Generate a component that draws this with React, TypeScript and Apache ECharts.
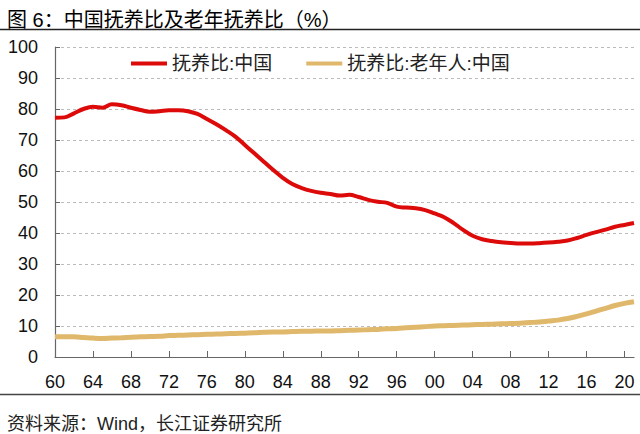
import { useEffect, useRef } from 'react'
import * as echarts from 'echarts'

// 年份 1960-2021
const years: string[] = []
for (let y = 1960; y <= 2021; y++) years.push(String(y))

// 抚养比:中国（%）
const totalRatio = [
  77.2, 77.3, 78.6, 80.0, 80.7, 80.4, 81.5, 81.2, 80.4, 79.7,
  79.1, 79.3, 79.6, 79.6, 79.3, 78.4, 76.8, 75.1, 73.2, 71.1,
  68.4, 65.7, 63.0, 60.3, 57.8, 55.8, 54.5, 53.6, 53.0, 52.6,
  52.1, 52.3, 51.6, 50.7, 50.1, 49.7, 48.5, 48.2, 48.0, 47.4,
  46.3, 45.1, 43.2, 41.0, 39.1, 38.0, 37.4, 37.0, 36.8, 36.6,
  36.6, 36.7, 36.9, 37.2, 37.6, 38.4, 39.4, 40.3, 41.1, 42.0,
  42.6, 43.2,
]

// 抚养比:老年人:中国（%）
const elderRatio = [
  6.5, 6.5, 6.5, 6.3, 6.1, 6.0, 6.1, 6.2, 6.4, 6.5,
  6.6, 6.7, 6.9, 7.0, 7.1, 7.2, 7.3, 7.4, 7.5, 7.6,
  7.7, 7.8, 8.0, 8.1, 8.1, 8.2, 8.3, 8.3, 8.4, 8.4,
  8.5, 8.6, 8.7, 8.8, 8.9, 9.1, 9.2, 9.4, 9.6, 9.8,
  10.0, 10.1, 10.2, 10.3, 10.4, 10.5, 10.6, 10.7, 10.8, 10.9,
  11.1, 11.3, 11.6, 11.9, 12.4, 13.1, 13.9, 14.8, 15.7, 16.6,
  17.3, 17.8,
]

const FONT = '"Liberation Sans", Arial, "Noto Sans CJK SC", sans-serif'

const App = () => {
  const chartRef = useRef<HTMLDivElement>(null)

  useEffect(() => {
    if (!chartRef.current) return
    const chart = echarts.init(chartRef.current, undefined, { renderer: 'svg' })

    chart.setOption({
      animation: false,
      textStyle: { fontFamily: FONT },
      title: [
        {
          text: '图 6：中国抚养比及老年抚养比（%）',
          left: 2,
          top: 5,
          textStyle: { fontSize: 20, fontWeight: 'normal', color: '#000', fontFamily: FONT },
        },
        {
          text: '资料来源：Wind，长江证券研究所',
          left: 2,
          top: 410,
          textStyle: { fontSize: 18, fontWeight: 'normal', color: '#222', fontFamily: FONT },
        },
      ],
      graphic: [
        { type: 'line', shape: { x1: 0, y1: 29.5, x2: 640, y2: 29.5 }, style: { stroke: '#222', lineWidth: 1.6 } },
        { type: 'line', shape: { x1: 0, y1: 394.5, x2: 640, y2: 394.5 }, style: { stroke: '#444', lineWidth: 1.4 } },
      ],
      color: ['#DD0A0A', '#E0B86B'],
      legend: {
        top: 49,
        left: 126,
        icon: 'rect',
        itemWidth: 36,
        itemHeight: 4,
        itemGap: 34,
        textStyle: { fontSize: 19, color: '#222', fontFamily: FONT },
        data: ['抚养比:中国', '抚养比:老年人:中国'],
      },
      grid: { left: 55, right: 6, top: 47, bottom: 77 },
      xAxis: {
        type: 'category',
        data: years,
        boundaryGap: false,
        axisLine: { lineStyle: { color: '#666', width: 1.2 } },
        axisTick: { inside: true, length: 6, interval: 3, lineStyle: { color: '#666' } },
        axisLabel: {
          interval: 3,
          margin: 16,
          fontSize: 18,
          color: '#111',
          formatter: (v: string) => v.slice(2),
        },
      },
      yAxis: {
        type: 'value',
        min: 0,
        max: 100,
        interval: 10,
        axisLine: { show: true, lineStyle: { color: '#666', width: 1.2 } },
        axisTick: { show: true, inside: true, length: 5, lineStyle: { color: '#666' } },
        axisLabel: { margin: 17, fontSize: 18, color: '#111' },
        splitLine: { lineStyle: { type: [3, 3], color: '#bbb', width: 1 } },
      },
      series: [
        {
          name: '抚养比:中国',
          type: 'line',
          data: totalRatio,
          symbol: 'none',
          smooth: 0.4,
          lineStyle: { width: 4 },
        },
        {
          name: '抚养比:老年人:中国',
          type: 'line',
          data: elderRatio,
          symbol: 'none',
          smooth: 0.4,
          lineStyle: { width: 5 },
        },
      ],
    })

    return () => {
      chart.dispose()
    }
  }, [])

  return (
    <div style={{ position: 'fixed', left: 0, top: 0, width: 640, height: 434, background: '#fff' }}>
      <div ref={chartRef} style={{ width: '640px', height: '434px' }} />
    </div>
  )
}

export default App
